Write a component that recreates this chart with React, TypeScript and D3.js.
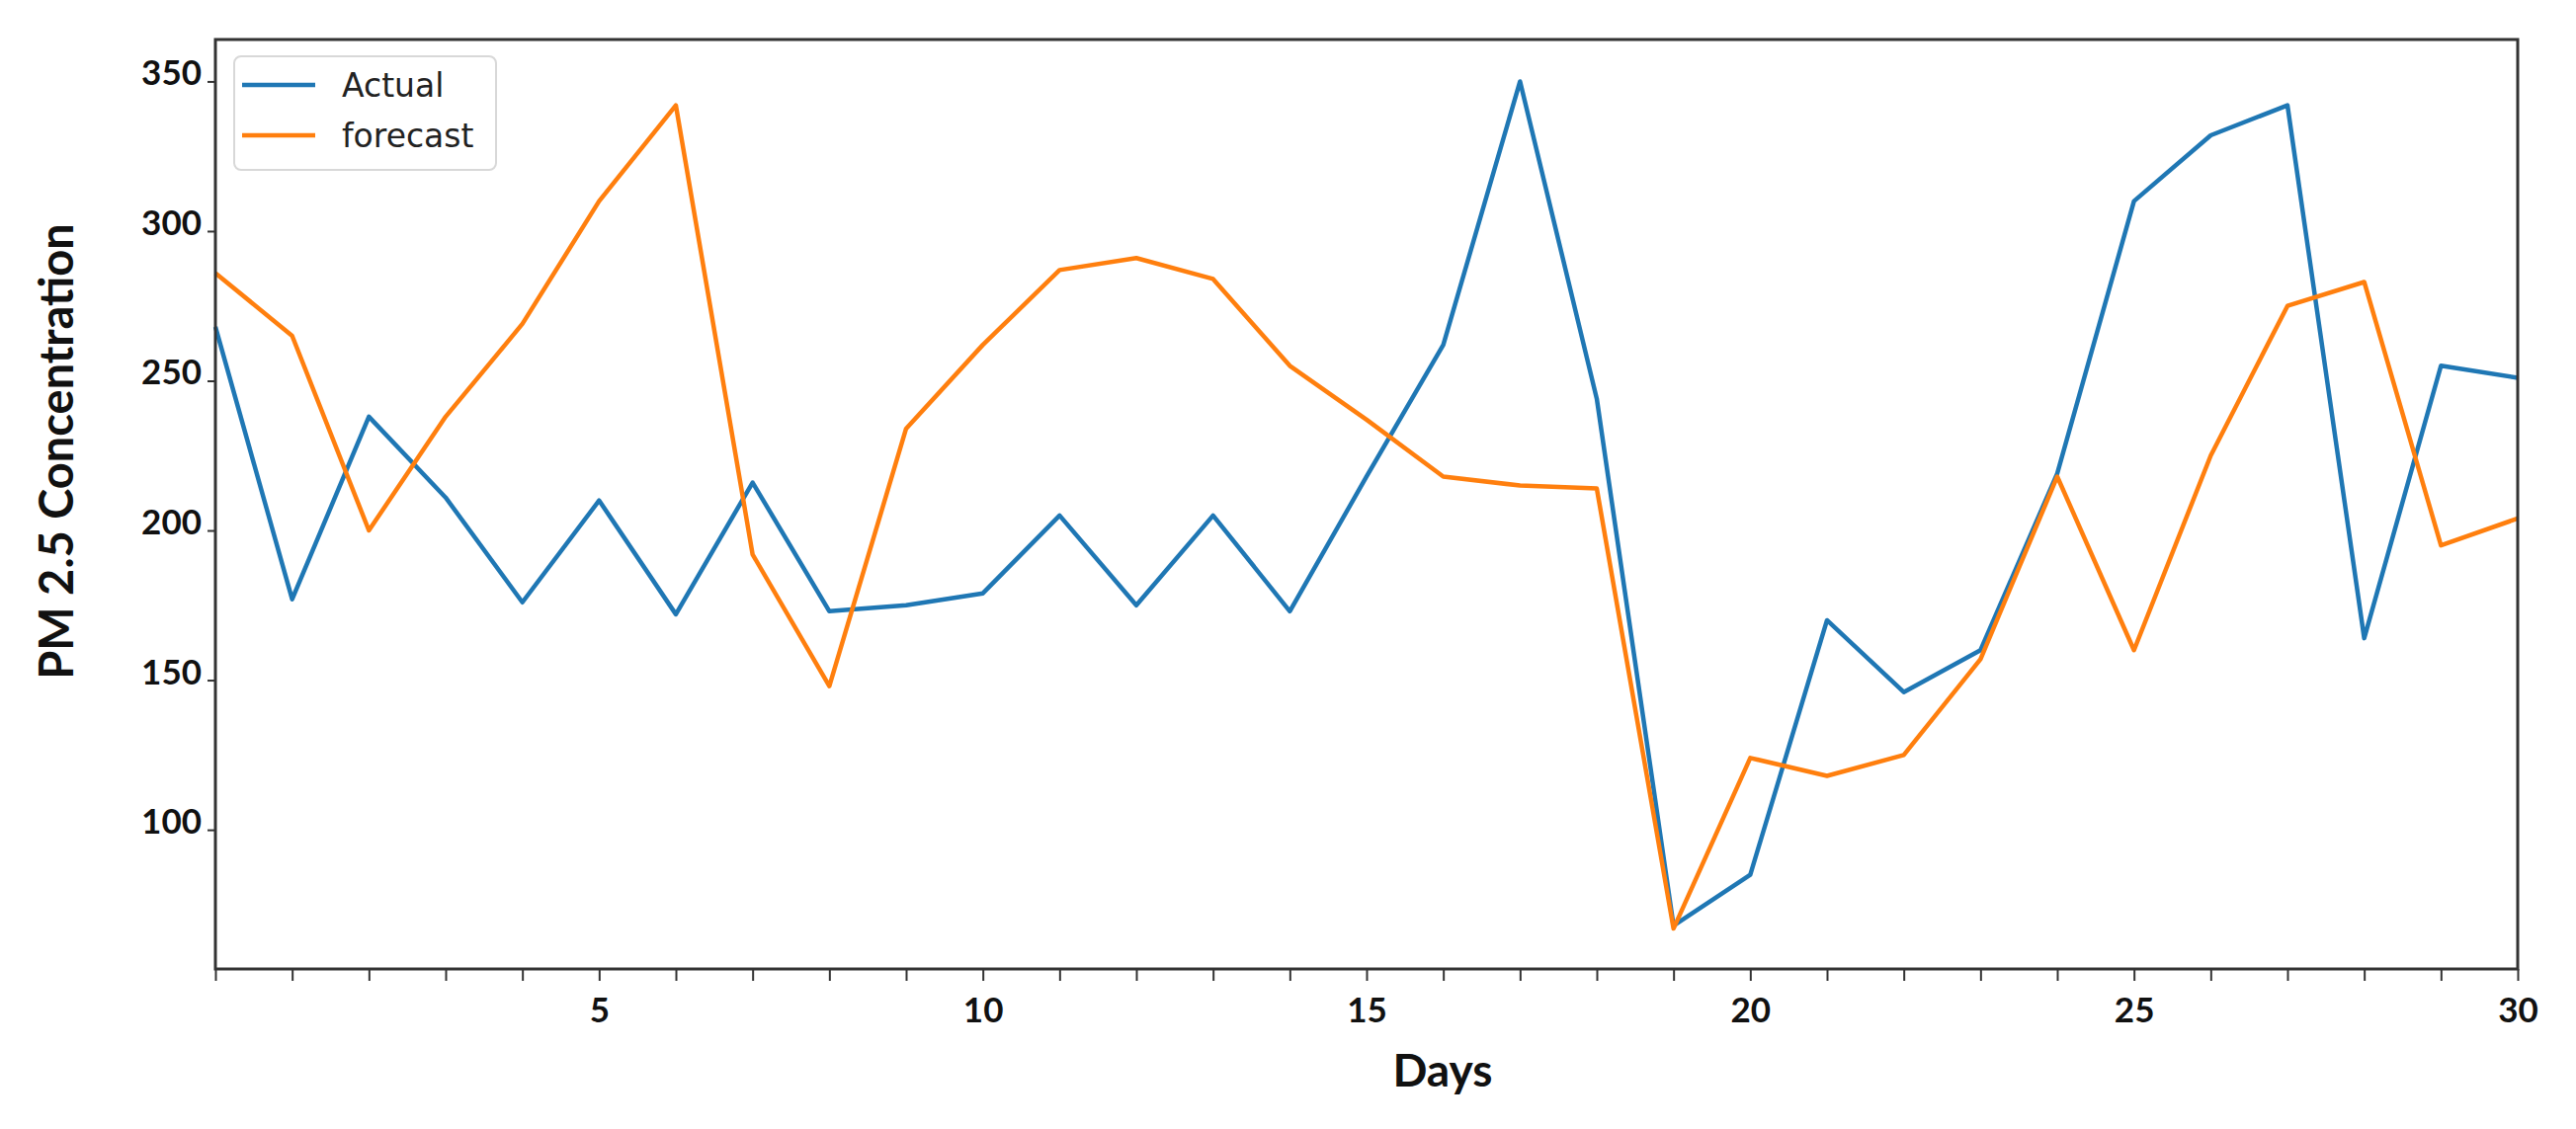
import * as d3 from "d3";
import { useEffect, useRef } from "react";

const days: number[] = d3.range(0, 31);
const actual: number[] = [
    268, 177, 238, 211, 176, 210, 172, 216, 173, 175, 179, 205, 175, 205, 173,
    218, 262, 350, 244, 68, 85, 170, 146, 160, 219, 310, 332, 342, 164, 255, 251,
];
const forecast: number[] = [
    286, 265, 200, 238, 269, 310, 342, 192, 148, 234, 262, 287, 291, 284, 255,
    237, 218, 215, 214, 67, 124, 118, 125, 157, 218, 160, 225, 275, 283, 195, 204,
];
const yTicks: number[] = [100, 150, 200, 250, 300, 350];
const xTicks: number[] = [5, 10, 15, 20, 25, 30];

const width = 2607;
const height = 1143;
const margin = { top: 40, right: 59, bottom: 162, left: 218 };

export default function App() {
    const ref = useRef<SVGSVGElement | null>(null);

    useEffect(() => {
        document.body.style.margin = "0";
        const svg = d3.select(ref.current);
        svg.selectAll("*").remove();

        const x = d3.scaleLinear([0, 30], [margin.left, width - margin.right]);
        const y = d3.scaleLinear([53.5, 364], [height - margin.bottom, margin.top]);

        const tickFont = "Lato, 'Open Sans', sans-serif";

        // x axis: minor every day, labels every 5
        const xAxis = svg
            .append("g")
            .attr("transform", `translate(0,${height - margin.bottom})`)
            .call(
                d3
                    .axisBottom(x)
                    .tickValues(days)
                    .tickSize(12)
                    .tickFormat((d) => (xTicks.includes(+d) ? String(d) : ""))
            );
        xAxis.select(".domain").remove();
        xAxis.selectAll(".tick line").attr("stroke", "#333").attr("stroke-width", 2);
        xAxis
            .selectAll(".tick text")
            .attr("font-family", tickFont)
            .attr("font-weight", 700)
            .attr("font-size", 35)
            .attr("fill", "#111")
            .attr("dy", "1.1em");

        const yAxis = svg
            .append("g")
            .attr("transform", `translate(${margin.left},0)`)
            .call(d3.axisLeft(y).tickValues(yTicks).tickSize(8).tickPadding(6));
        yAxis.select(".domain").remove();
        yAxis.selectAll(".tick line").attr("stroke", "#333").attr("stroke-width", 2);
        yAxis
            .selectAll(".tick text")
            .attr("font-family", tickFont)
            .attr("font-weight", 700)
            .attr("font-size", 35)
            .attr("fill", "#111")
            .attr("dy", "0.1em");

        const line = d3
            .line<number>()
            .x((_, i) => x(days[i]))
            .y((d) => y(d));

        const plot = svg.append("g");
        plot.append("path")
            .datum(actual)
            .attr("fill", "none")
            .attr("stroke", "#1f77b4")
            .attr("stroke-width", 4.5)
            .attr("stroke-linejoin", "round")
            .attr("d", line);
        plot.append("path")
            .datum(forecast)
            .attr("fill", "none")
            .attr("stroke", "#ff7f0e")
            .attr("stroke-width", 4.5)
            .attr("stroke-linejoin", "round")
            .attr("d", line);

        // frame
        svg.append("rect")
            .attr("x", margin.left)
            .attr("y", margin.top)
            .attr("width", width - margin.left - margin.right)
            .attr("height", height - margin.top - margin.bottom)
            .attr("fill", "none")
            .attr("stroke", "#333")
            .attr("stroke-width", 3);

        // legend
        const legend = svg.append("g").attr("transform", `translate(${margin.left + 19},57)`);
        legend
            .append("rect")
            .attr("width", 265)
            .attr("height", 115)
            .attr("rx", 7)
            .attr("fill", "white")
            .attr("fill-opacity", 0.8)
            .attr("stroke", "#d8d8d8")
            .attr("stroke-width", 2);
        const entries = [
            { label: "Actual", color: "#1f77b4" },
            { label: "forecast", color: "#ff7f0e" },
        ];
        entries.forEach((e, i) => {
            const ly = 29 + i * 51;
            legend
                .append("line")
                .attr("x1", 8)
                .attr("x2", 82)
                .attr("y1", ly)
                .attr("y2", ly)
                .attr("stroke", e.color)
                .attr("stroke-width", 4.5);
            legend
                .append("text")
                .attr("x", 109)
                .attr("y", ly)
                .attr("dy", "0.35em")
                .attr("font-family", "'DejaVu Sans', sans-serif")
                .attr("font-size", 33)
                .attr("fill", "#222")
                .text(e.label);
        });

        // axis titles
        svg.append("text")
            .attr("x", 1460)
            .attr("y", 1100)
            .attr("text-anchor", "middle")
            .attr("font-family", tickFont)
            .attr("font-weight", 700)
            .attr("font-size", 46)
            .attr("fill", "#111")
            .text("Days");
        svg.append("text")
            .attr("transform", `translate(74,457) rotate(-90)`)
            .attr("text-anchor", "middle")
            .attr("font-family", tickFont)
            .attr("font-weight", 700)
            .attr("font-size", 47)
            .attr("fill", "#111")
            .text("PM 2.5 Concentration");
    }, []);

    return <svg ref={ref} width={width} height={height} style={{ display: "block", background: "white" }} />;
}
